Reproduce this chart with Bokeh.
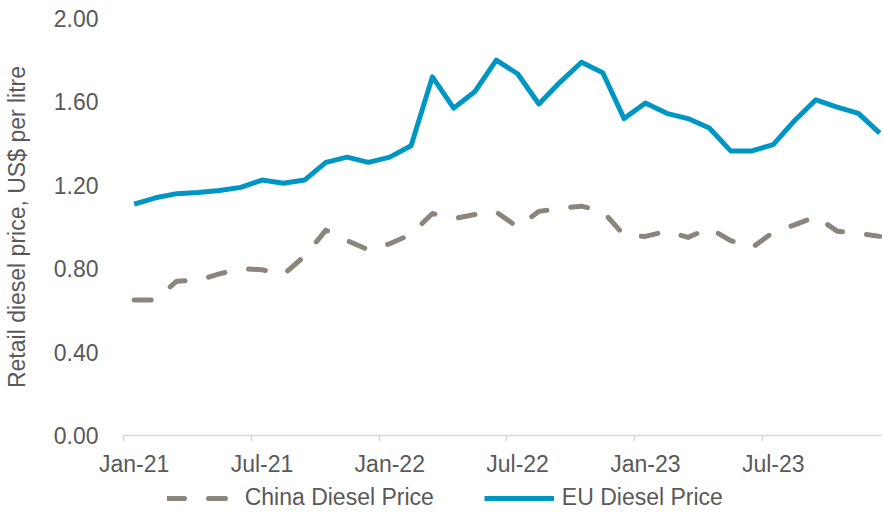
from bokeh.plotting import figure
from bokeh.layouts import column
from bokeh.models import (Range1d, LinearAxis, FixedTicker, Legend, LegendItem,
                          NumeralTickFormatter, CustomLabelingPolicy)
from bokeh.embed import file_html
from bokeh.resources import INLINE

# ---- data ----
months = [f"{m}-{y}" for y in ("21", "22", "23") for m in
          ("Jan", "Feb", "Mar", "Apr", "May", "Jun", "Jul", "Aug", "Sep", "Oct", "Nov", "Dec")]
china_price = [0.65, 0.65, 0.74, 0.745, 0.775, 0.80, 0.795, 0.772, 0.86, 0.985, 0.935, 0.89,
               0.92, 0.965, 1.065, 1.04, 1.06, 1.072, 1.00, 1.075, 1.09, 1.10, 1.075, 0.96,
               0.955, 0.98, 0.95, 0.995, 0.935, 0.90, 0.975, 1.01, 1.05, 0.98, 0.97, 0.955]
eu_price = [1.11, 1.14, 1.16, 1.165, 1.175, 1.19, 1.225, 1.21, 1.225, 1.31, 1.335, 1.31,
            1.335, 1.39, 1.72, 1.57, 1.65, 1.80, 1.735, 1.59, 1.695, 1.79, 1.74, 1.52,
            1.595, 1.545, 1.52, 1.475, 1.365, 1.365, 1.395, 1.51, 1.61, 1.575, 1.545, 1.45]
label_months = ["Jan-21", "Jul-21", "Jan-22", "Jul-22", "Jan-23", "Jul-23"]
y_ticks = [0.0, 0.4, 0.8, 1.2, 1.6, 2.0]
series_names = ["China Diesel Price", "EU Diesel Price"]

x = list(range(len(months)))
label_idx = [months.index(m) for m in label_months]

FONT = "Liberation Sans"
TXT = "#595959"
FS = "23px"
GRAY = "#8C857B"
BLUE = "#0096C3"
CHINA_STYLE = dict(line_color=GRAY, line_width=5, line_dash="17 24",
                   line_cap="round", line_join="round")
EU_STYLE = dict(line_color=BLUE, line_width=5, line_join="round")

p = figure(frame_width=759, frame_height=417,
           x_range=Range1d(-0.5, 35.13), y_range=Range1d(0, 2.0),
           output_backend="svg", toolbar_location=None, x_axis_location=None,
           min_border_left=116, min_border_right=0, min_border_top=18, min_border_bottom=0)
p.outline_line_color = None
p.xgrid.visible = False
p.ygrid.visible = False

# y axis
ya = p.yaxis[0]
ya.ticker = FixedTicker(ticks=y_ticks)
ya.formatter = NumeralTickFormatter(format="0.00")
ya.axis_line_color = None
ya.major_tick_line_color = None
ya.minor_tick_line_color = None
ya.major_label_standoff = 19
ya.major_label_text_font = FONT
ya.major_label_text_font_size = FS
ya.major_label_text_color = TXT
ya.axis_label = "Retail diesel price, US$ per litre"
ya.axis_label_text_font = FONT
ya.axis_label_text_font_size = FS
ya.axis_label_text_color = TXT
ya.axis_label_text_font_style = "normal"
ya.axis_label_standoff = 21

# x axis line + ticks at category boundaries (no labels)
no_labels = CustomLabelingPolicy(code="""
const r = indices.clone();
for (let i = 0; i < r.size; i++) { r.unset(i); }
return r;
""")
ax_ticks = LinearAxis(ticker=FixedTicker(ticks=[i - 0.5 for i in label_idx]),
                      axis_line_color="#D9D9D9", axis_line_width=1.5,
                      major_tick_line_color="#D9D9D9", major_tick_line_width=1.5,
                      major_tick_out=6, major_tick_in=0,
                      minor_tick_line_color=None,
                      major_label_policy=no_labels,
                      major_label_text_font_size="0px", major_label_standoff=0)
p.add_layout(ax_ticks, "below")

# x labels centred on categories
ax_labels = LinearAxis(ticker=FixedTicker(ticks=label_idx),
                       major_label_overrides={i: months[i] for i in label_idx},
                       axis_line_color=None, major_tick_line_color=None,
                       minor_tick_line_color=None,
                       major_tick_out=0, major_tick_in=0,
                       major_label_standoff=9,
                       major_label_text_font=FONT, major_label_text_font_size=FS,
                       major_label_text_color=TXT)
p.add_layout(ax_labels, "below")

p.line(x, china_price, **CHINA_STYLE)
p.line(x, eu_price, **EU_STYLE)

# ---- legend strip below the chart (series drawn outside its visible range) ----
lg = figure(frame_width=759, frame_height=33, x_range=Range1d(-3, -2), y_range=Range1d(-3, -2),
            output_backend="svg", toolbar_location=None,
            x_axis_location=None, y_axis_location=None,
            min_border_left=116, min_border_right=0, min_border_top=0, min_border_bottom=0)
lg.outline_line_color = None
lg.xgrid.visible = False
lg.ygrid.visible = False
r_china = lg.line(x, china_price, **CHINA_STYLE)
r_eu = lg.line(x, eu_price, **EU_STYLE)
legend = Legend(items=[LegendItem(label=series_names[0], renderers=[r_china]),
                       LegendItem(label=series_names[1], renderers=[r_eu])],
                orientation="horizontal", location=(128, 1),
                glyph_width=70, glyph_height=20, label_standoff=8, spacing=50,
                padding=0, margin=0, border_line_color=None, background_fill_alpha=0,
                label_text_font=FONT, label_text_font_size=FS, label_text_color=TXT)
lg.add_layout(legend, "center")

layout = column(p, lg, spacing=0)
open("out.html", "w").write(file_html(layout, INLINE))
